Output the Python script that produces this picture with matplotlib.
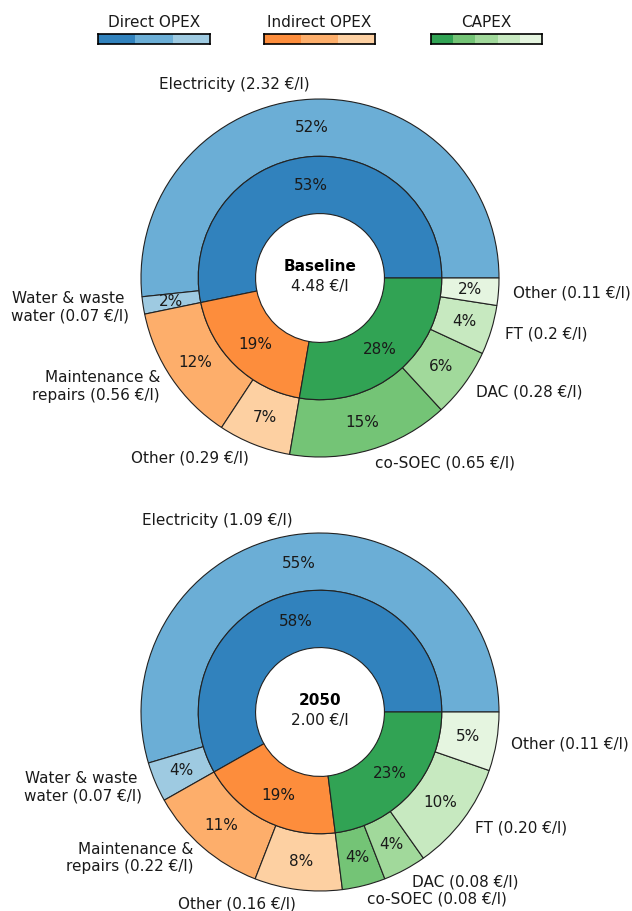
import matplotlib
matplotlib.use("Agg")
import matplotlib.pyplot as plt

# outer ring categories (counter-clockwise from 3 o'clock)
categories = ["Electricity", "Water & waste \nwater", "Maintenance &\nrepairs", "Other",
              "co-SOEC", "DAC", "FT", "Other"]
groups = ["Direct OPEX", "Indirect OPEX", "CAPEX"]
group_of = [0, 0, 1, 1, 2, 2, 2, 2]

# €/l
baseline_vals = [2.316, 0.07, 0.56, 0.294, 0.652, 0.28, 0.20, 0.11]
baseline_txt = ["2.32", "0.07", "0.56", "0.29", "0.65", "0.28", "0.2", "0.11"]
y2050_vals = [1.092, 0.072, 0.218, 0.158, 0.078, 0.078, 0.198, 0.106]
y2050_txt = ["1.09", "0.07", "0.22", "0.16", "0.08", "0.08", "0.20", "0.11"]

blues = ["#3182bd", "#6baed6", "#9ecae1"]
oranges = ["#fd8d3c", "#fdae6b", "#fdd0a2"]
greens = ["#31a354", "#74c476", "#a1d99b", "#c7e9c0", "#e5f5e0"]

inner_colors = [blues[0], oranges[0], greens[0]]
outer_colors = [blues[1], blues[2], oranges[1], oranges[2],
                greens[1], greens[2], greens[3], greens[4]]

W, H = 632, 911
FS = 11
fig = plt.figure(figsize=(W / 100, H / 100), dpi=100)

R_PX = 179
edge = dict(edgecolor="#222222", linewidth=0.8)


def donut(cx, cy, vals, txt, title):
    half = 1.25 * R_PX
    ax = fig.add_axes([(cx - half) / W, 1 - (cy + half) / H, 2 * half / W, 2 * half / H])
    inner = [sum(v for v, g in zip(vals, group_of) if g == k) for k in range(3)]
    labels = [f"{c} ({t} €/l)" for c, t in zip(categories, txt)]
    _, lt, _ = ax.pie(vals, radius=1, colors=outer_colors, labels=labels,
                      autopct="%.0f%%", pctdistance=0.84, labeldistance=1.08,
                      wedgeprops=dict(width=0.32, **edge),
                      textprops=dict(fontsize=FS, color="#1a1a1a"))
    for t in lt:
        t.set_multialignment(t.get_horizontalalignment())
    ax.pie(inner, radius=0.68, colors=inner_colors, autopct="%.0f%%",
           pctdistance=0.765, wedgeprops=dict(width=0.32, **edge),
           textprops=dict(fontsize=FS, color="#1a1a1a"))
    total = sum(vals)
    ax.text(0, 0.065, title, ha="center", va="center", fontsize=FS, fontweight="bold")
    ax.text(0, -0.045, f"{total:.2f} €/l", ha="center", va="center", fontsize=FS,
            color="#1a1a1a")
    ax.set_xlim(-1.25, 1.25)
    ax.set_ylim(-1.25, 1.25)


donut(320, 278, baseline_vals, baseline_txt, "Baseline")
donut(320, 712, y2050_vals, y2050_txt, "2050")

# legend bars
legend_pos = [(98, 210), (264, 375), (431, 542)]
for name, shades, (x0, x1) in zip(groups, [blues, oranges, greens], legend_pos):
    lax = fig.add_axes([x0 / W, 1 - 44 / H, (x1 - x0) / W, 10 / H])
    lax.barh(0, [1] * len(shades), left=range(len(shades)), height=1, color=shades)
    lax.set_xlim(0, len(shades))
    lax.set_ylim(-0.5, 0.5)
    lax.set_xticks([])
    lax.set_yticks([])
    for s in lax.spines.values():
        s.set_linewidth(1.2)
    lax.set_title(name, fontsize=FS, pad=5, color="#1a1a1a")

fig.savefig("out.png", dpi=100)
